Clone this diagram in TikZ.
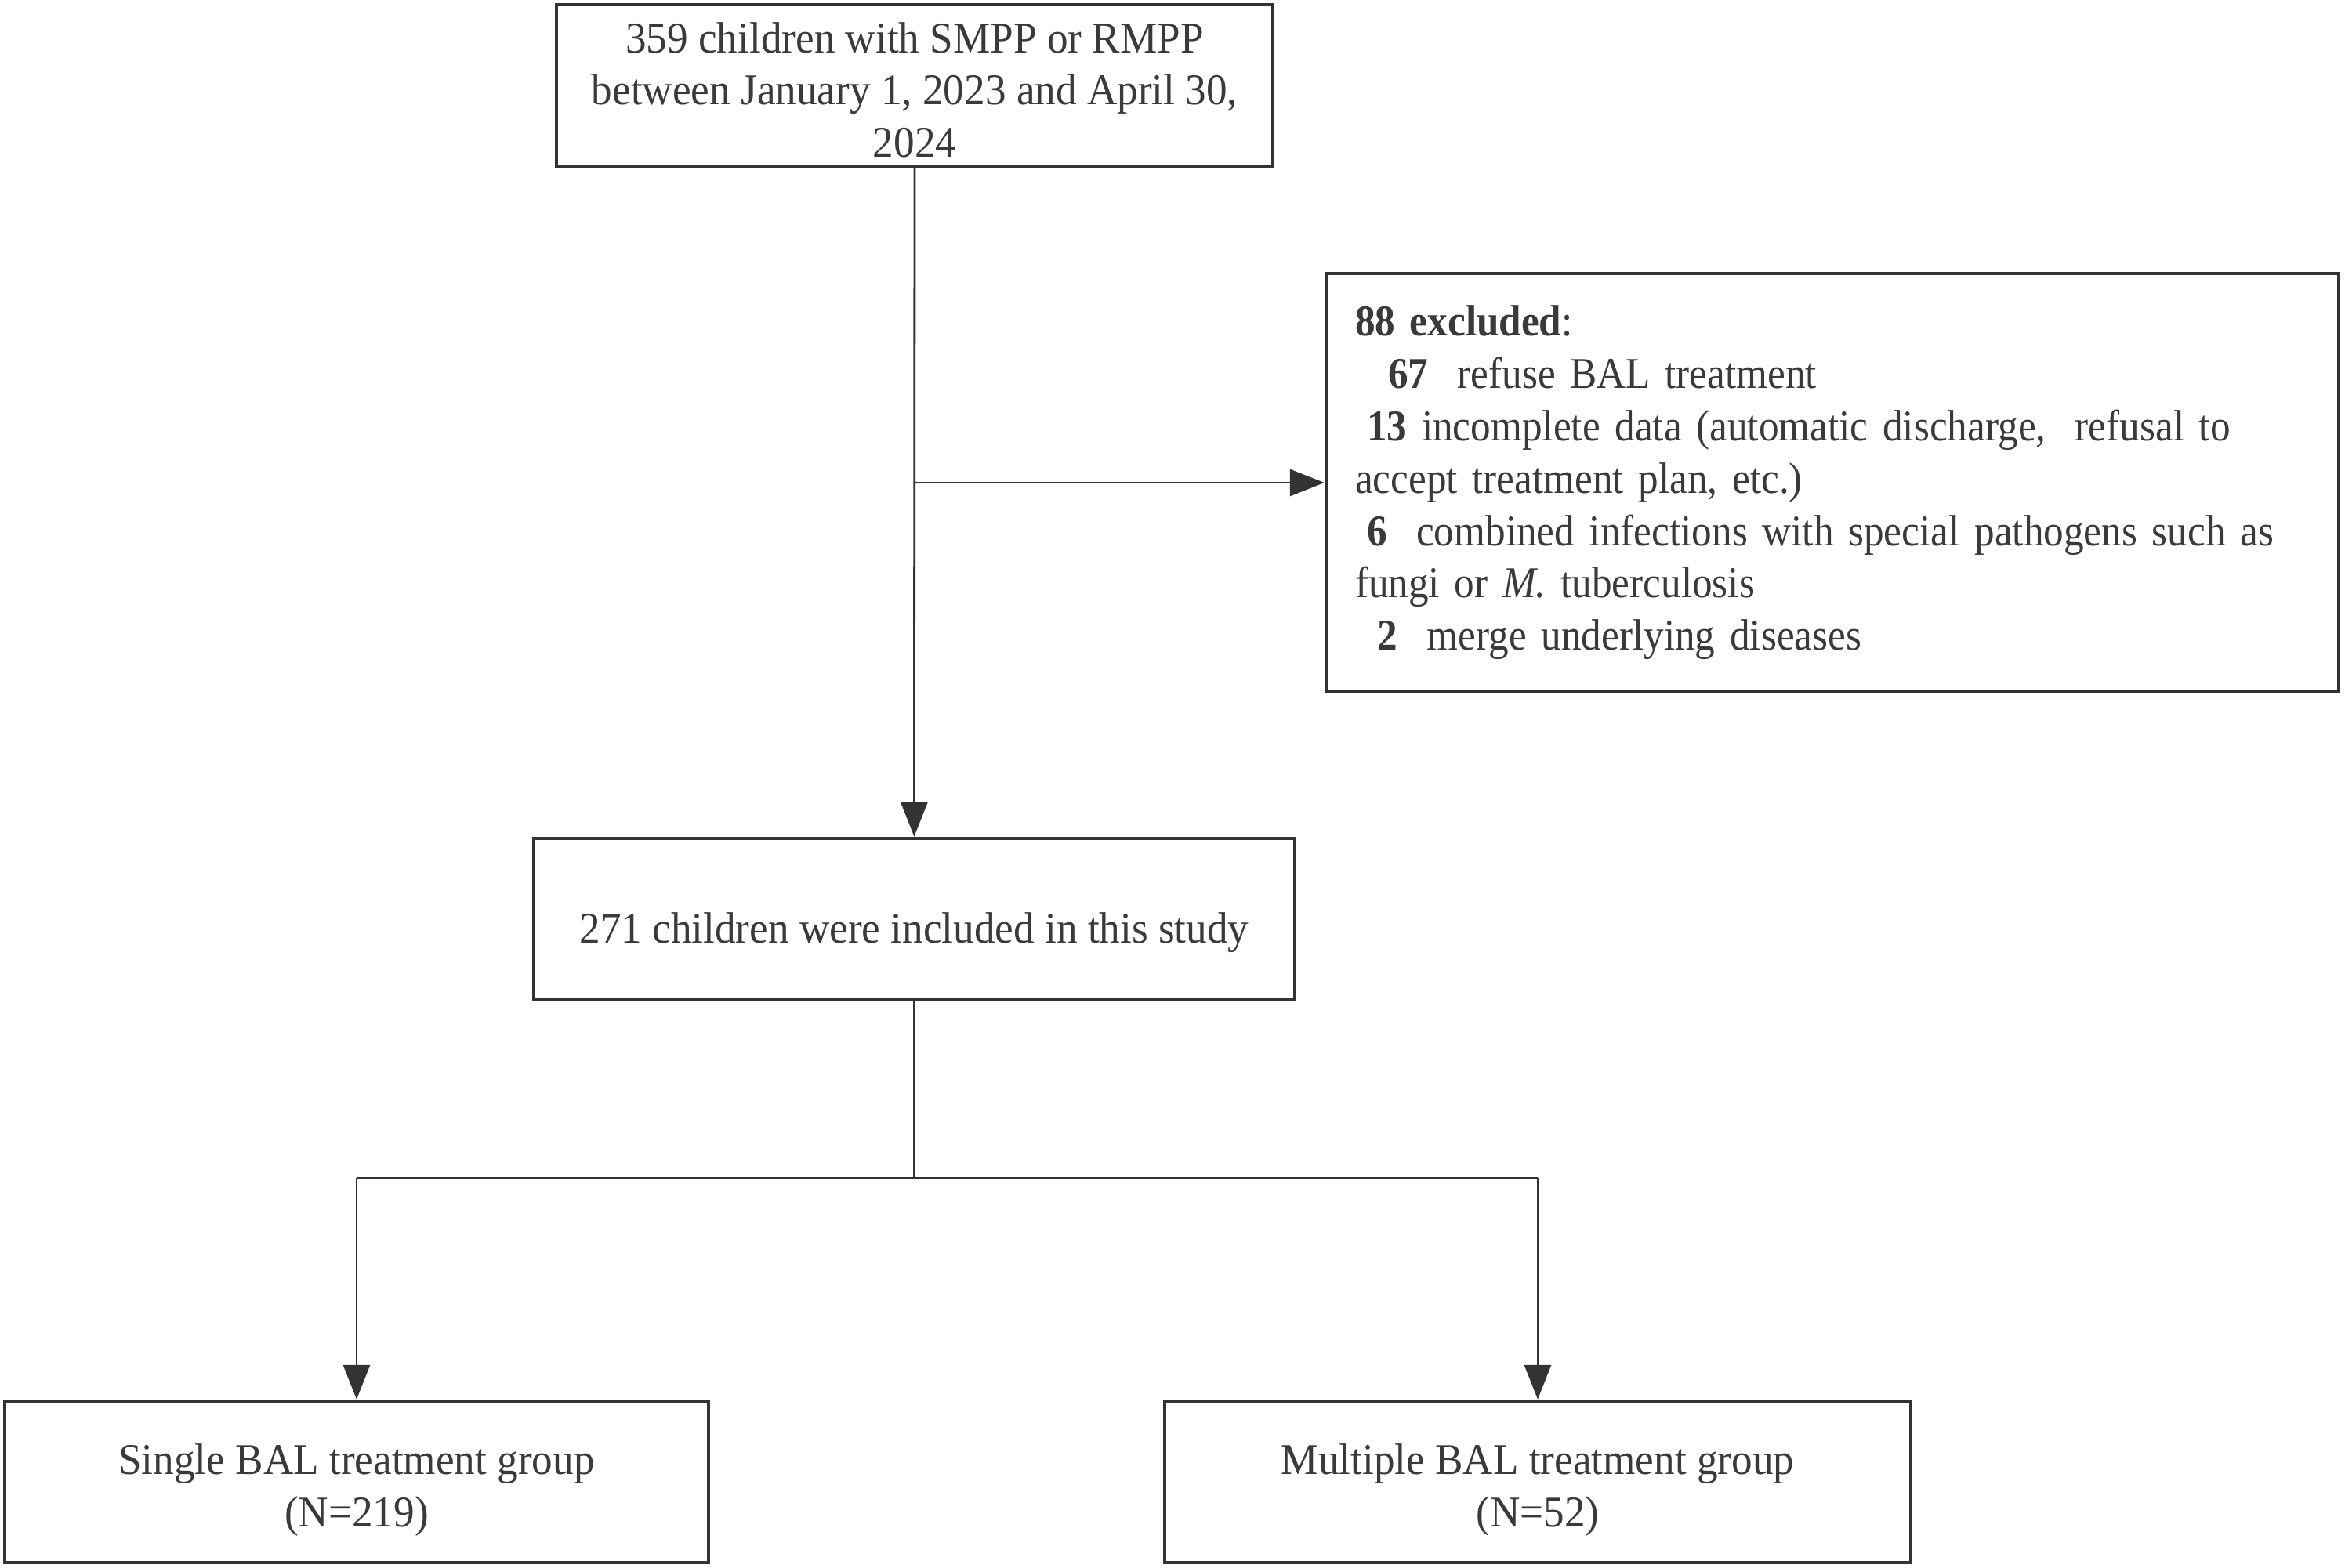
\documentclass[tikz,border=0pt]{standalone}
\usepackage{fontspec}
\setmainfont[FakeStretch=0.95]{Liberation Serif}
\newfontfamily\exclfont[FakeStretch=0.915]{Liberation Serif}
\usetikzlibrary{arrows.meta}
\definecolor{linegray}{HTML}{333333}
\definecolor{txtgray}{HTML}{3A3A3A}
\newcommand{\vlift}[1]{\rule{0pt}{#1}}
\begin{document}
\begin{tikzpicture}[x=1pt,y=1pt,
 box/.style={draw=linegray,line width=1.1pt,text=txtgray,font=\fontsize{14}{16.7}\selectfont,align=center,inner sep=0pt},
 conn/.style={draw=linegray,line width=0.7pt},
 arr/.style={conn,-{Triangle[length=11pt,width=8.5pt]}}]
\useasboundingbox (0,0) rectangle (748,-500.25);
\node[box,minimum width=228.5pt,minimum height=51.5pt] (top) at (291.75,-27.25)
  {\vlift{12.6pt}359 children with SMPP or RMPP\\between January 1, 2023 and April 30,\\2024};
\node[box,minimum width=323pt,minimum height=133.5pt,align=left,text width=304.5pt,inner xsep=9.25pt,font=\exclfont\fontsize{14}{16.7}\selectfont] (excl) at (584.5,-154)
  {\textbf{88 excluded}:\\
   \hspace*{10.5pt}\textbf{67}\ \ refuse BAL treatment\\
   \hspace*{3.8pt}\textbf{13} incomplete data (automatic discharge,\ \ refusal to\\
   accept treatment plan, etc.)\\
   \hspace*{3.8pt}\textbf{6}\ \ combined infections with special pathogens such as\\
   fungi or \textit{M.} tuberculosis\\
   \hspace*{7.2pt}\textbf{2}\ \ merge underlying diseases};
\node[box,minimum width=242.75pt,minimum height=51.25pt] (mid) at (291.6,-293.1)
  {\vlift{18.6pt}271 children were included in this study};
\node[box,minimum width=224.5pt,minimum height=51.5pt] (left) at (113.75,-472.75)
  {\vlift{14.9pt}Single BAL treatment group\\(N=219)};
\node[box,minimum width=238pt,minimum height=51.5pt] (right) at (490.5,-472.75)
  {\vlift{14.9pt}Multiple BAL treatment group\\(N=52)};
\coordinate (j1) at (top.south |- excl.west);
\draw[arr] (top.south) -- (mid.north);
\draw[arr] (j1) -- (excl.west);
\coordinate (br) at (mid.south |- 0,-375.75);
\coordinate (bl) at (left.north |- br);
\coordinate (bR) at (right.north |- br);
\draw[conn] (mid.south) -- (br);
\draw[conn] (bl) -- (bR);
\draw[arr] (bl) -- (left.north);
\draw[arr] (bR) -- (right.north);
\end{tikzpicture}
\end{document}
